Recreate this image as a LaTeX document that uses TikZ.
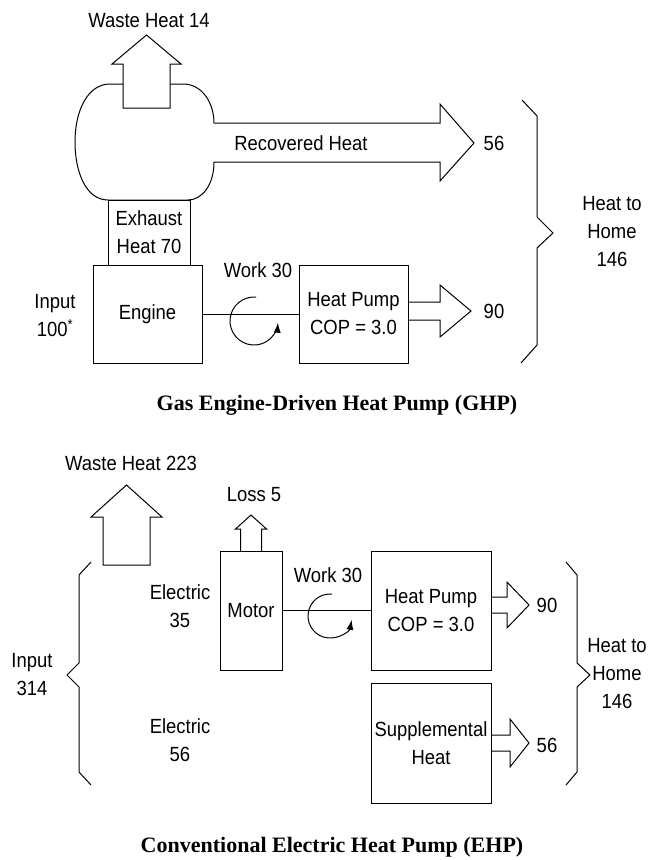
\documentclass[tikz,border=0pt]{standalone}
\usepackage{fontspec}
\setmainfont{Liberation Sans}[FakeStretch=0.9]
\newfontfamily\titlefont{Liberation Serif}
\usetikzlibrary{positioning,arrows.meta}

\begin{document}
\begin{tikzpicture}[
x=1pt, y=-1pt,
line width=1pt,
font=\fontsize{20.5}{28}\selectfont,
box/.style={draw, align=center, inner sep=1pt, outer sep=0pt},
txt/.style={align=center, inner sep=0pt},
flow/.style={draw, line join=miter},
turn/.style={-{Latex[length=10pt,width=7pt]}},
title/.style={font=\titlefont\bfseries\fontsize{22}{26}\selectfont}
]
\useasboundingbox (0,0) rectangle (663,860);

\draw[flow, fill=white] (214,123) -- (440,123) -- (440,104) -- (474,143) -- (440,181) -- (440,162) -- (214,162)
  .. controls (214,185) and (202,200) .. (188,200) -- (108,200)
  .. controls (86,200) and (75,172) .. (75,142)
  .. controls (75,110) and (88,84) .. (110,84) -- (183,84)
  .. controls (203,84) and (214,104) .. (214,123) -- cycle;
\draw[flow, fill=white] (123,108) -- (123,64) -- (112,64) -- (146.5,35) -- (181,64) -- (170,64) -- (170,108) -- cycle;

\node[txt] (wasteA) at (149,21) {Waste Heat 14};
\node[txt] (recov) at (301,143) {Recovered Heat};
\node[txt] (recA) at (494,143) {56};

\node[box, minimum width=109pt, minimum height=98pt] (engine) at (147.5,314) {Engine};
\node[box, minimum width=82pt, minimum height=65pt, above=0pt of engine, xshift=1.5pt] (exhaust) {Exhaust\\Heat 70};
\node[box, minimum width=109pt, minimum height=98pt, right=97pt of engine] (hpA) {Heat Pump\\COP = 3.0};
\node[txt] (inputA) at (55,316) {Input\\100\textsuperscript{*}};
\node[txt] (workA) at (258,270) {Work 30};

\draw (engine) -- (hpA);
\coordinate (turnA) at (254,321);
\draw[turn] (turnA) ++(-85:24) arc[start angle=-85, end angle=-356, radius=24];

\draw[flow] (hpA.east) ++(0,-12) -- ++(32,0) -- ++(0,-17) -- ++(31,26) -- ++(-31,26) -- ++(0,-17) -- ++(-32,0);
\node[txt] (pumpA) at (494,311) {90};

\draw (522,100) -- (537,116) -- (537,217) -- (553,233) -- (537,248) -- (537,345) -- (521,363);
\node[txt] (homeA) at (612,232) {Heat to\\Home\\146};

\node[title] (titleA) at (337,405) {Gas Engine-Driven Heat Pump (GHP)};

\draw[flow] (103,565) -- (103,517) -- (91,517) -- (126.5,485) -- (162,517) -- (150,517) -- (150,565) -- cycle;
\node[txt] (wasteB) at (131,463) {Waste Heat 223};

\node[box, minimum width=62pt, minimum height=119pt] (motor) at (251,610.5) {Motor};
\node[box, minimum width=120pt, minimum height=119pt] (hpB) at (431,610.5) {Heat Pump\\COP = 3.0};
\node[box, minimum width=120pt, minimum height=120pt, below=13pt of hpB] (supp) {Supplemental\\Heat};

\draw[flow] (motor.north) ++(-10.5,0) -- ++(0,-22) -- ++(-5,0) -- ++(15.5,-14) -- ++(15.5,14) -- ++(-5,0) -- ++(0,22);
\node[txt] (loss) at (254,495) {Loss 5};

\node[txt] (elecA) at (180,606) {Electric\\35};
\node[txt] (elecB) at (180,740) {Electric\\56};
\node[txt] (inputB) at (32,675) {Input\\314};
\node[txt] (workB) at (328,575) {Work 30};

\draw (motor) -- (hpB);
\coordinate (turnB) at (330,616);
\draw[turn] (turnB) ++(-85:22) arc[start angle=-85, end angle=-350, radius=22];

\draw[flow] (hpB.east) ++(0,-13.5) -- ++(16,0) -- ++(0,-15) -- ++(22,23) -- ++(-22,23) -- ++(0,-15) -- ++(-16,0);
\node[txt] (pumpB) at (547,605) {90};
\draw[flow] (supp.east) ++(0,-8) -- ++(19,0) -- ++(0,-16) -- ++(19,24) -- ++(-19,24) -- ++(0,-16) -- ++(-19,0);
\node[txt] (suppB) at (547,745) {56};

\draw (91,562) -- (79,575) -- (79,663) -- (67,675) -- (79,687) -- (79,772) -- (91,785);
\draw (566,562) -- (577,575) -- (577,663) -- (590,675) -- (577,687) -- (577,772) -- (566,785);
\node[txt] (homeB) at (617,674) {Heat to\\Home\\146};

\node[title] (titleB) at (332,847) {Conventional Electric Heat Pump (EHP)};

\end{tikzpicture}
\end{document}
